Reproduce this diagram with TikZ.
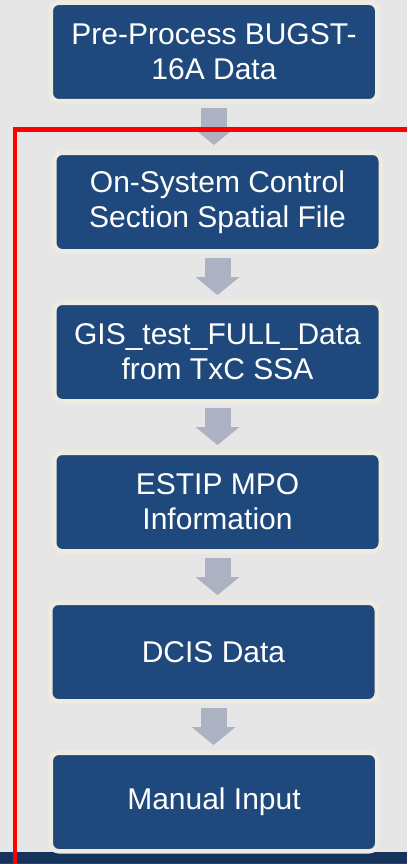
\documentclass[tikz,border=0pt]{standalone}
\usepackage{fontspec}
\setmainfont{Liberation Sans}
\usetikzlibrary{positioning}
\usetikzlibrary{arrows.meta}
\definecolor{boxblue}{HTML}{1F497D}
\definecolor{boxrim}{HTML}{EEECE1}
\definecolor{arrowgray}{HTML}{ACB2C2}
\definecolor{pagegray}{HTML}{E6E6E6}
\definecolor{bandblue}{HTML}{15335B}
\definecolor{bandred}{HTML}{9E1B1B}

\begin{document}
\begin{tikzpicture}[x=1pt, y=-1pt,
                          stepbox/.style={rectangle, rounded corners=8pt, draw=boxrim, line width=4.5pt, fill=boxblue, text=white, align=center, minimum width=326.5pt, minimum height=98.5pt, inner sep=0pt, font=\fontsize{30}{35}\selectfont},
                          flowarrow/.style={draw=arrowgray, line width=26pt, -{Triangle[width=44pt, length=18pt, line width=0pt]}, shorten <=4.5pt, shorten >=5.5pt},
                          redframe/.style={draw=red, line width=4pt},
                      ]
                      % background
                      \fill[pagegray] (0,0) rectangle (407,864);
                      \useasboundingbox (0,0) rectangle (407,864);
                      \fill[bandblue] (0,852) rectangle (407,864);
                      \draw[bandred, line width=1pt] (0,863.5) -- (407,863.5);

                      %Nodes
                      \node[stepbox]    (bugst)   at (214,52)                     {Pre-Process BUGST-\\16A Data};
                      \node[stepbox]    (onsys)   [below=47pt of bugst, xshift=3.5pt]   {On-System Control\\Section Spatial File};
                      \node[stepbox]    (gistest) [below=47pt of onsys]          {GIS\_test\_FULL\_Data\\from TxC SSA};
                      \node[stepbox]    (estip)   [below=47pt of gistest]        {ESTIP MPO\\Information};
                      \node[stepbox]    (dcis)    [below=47pt of estip, xshift=-4pt]    {DCIS Data};
                      \node[stepbox]    (manual)  [below=47pt of dcis, xshift=0.5pt]    {Manual Input};

                      %Lines
                      \draw[flowarrow] (bugst.south) -- (bugst.south |- onsys.north);
                      \draw[flowarrow] (onsys.south) -- (onsys.south |- gistest.north);
                      \draw[flowarrow] (gistest.south) -- (gistest.south |- estip.north);
                      \draw[flowarrow] (estip.south) -- (estip.south |- dcis.north);
                      \draw[flowarrow] (dcis.south) -- (dcis.south |- manual.north);

                      % red frame
                      \draw[redframe] (14.5,864) -- (14.5,129.5) -- (407,129.5);
                  \end{tikzpicture}
\end{document}
